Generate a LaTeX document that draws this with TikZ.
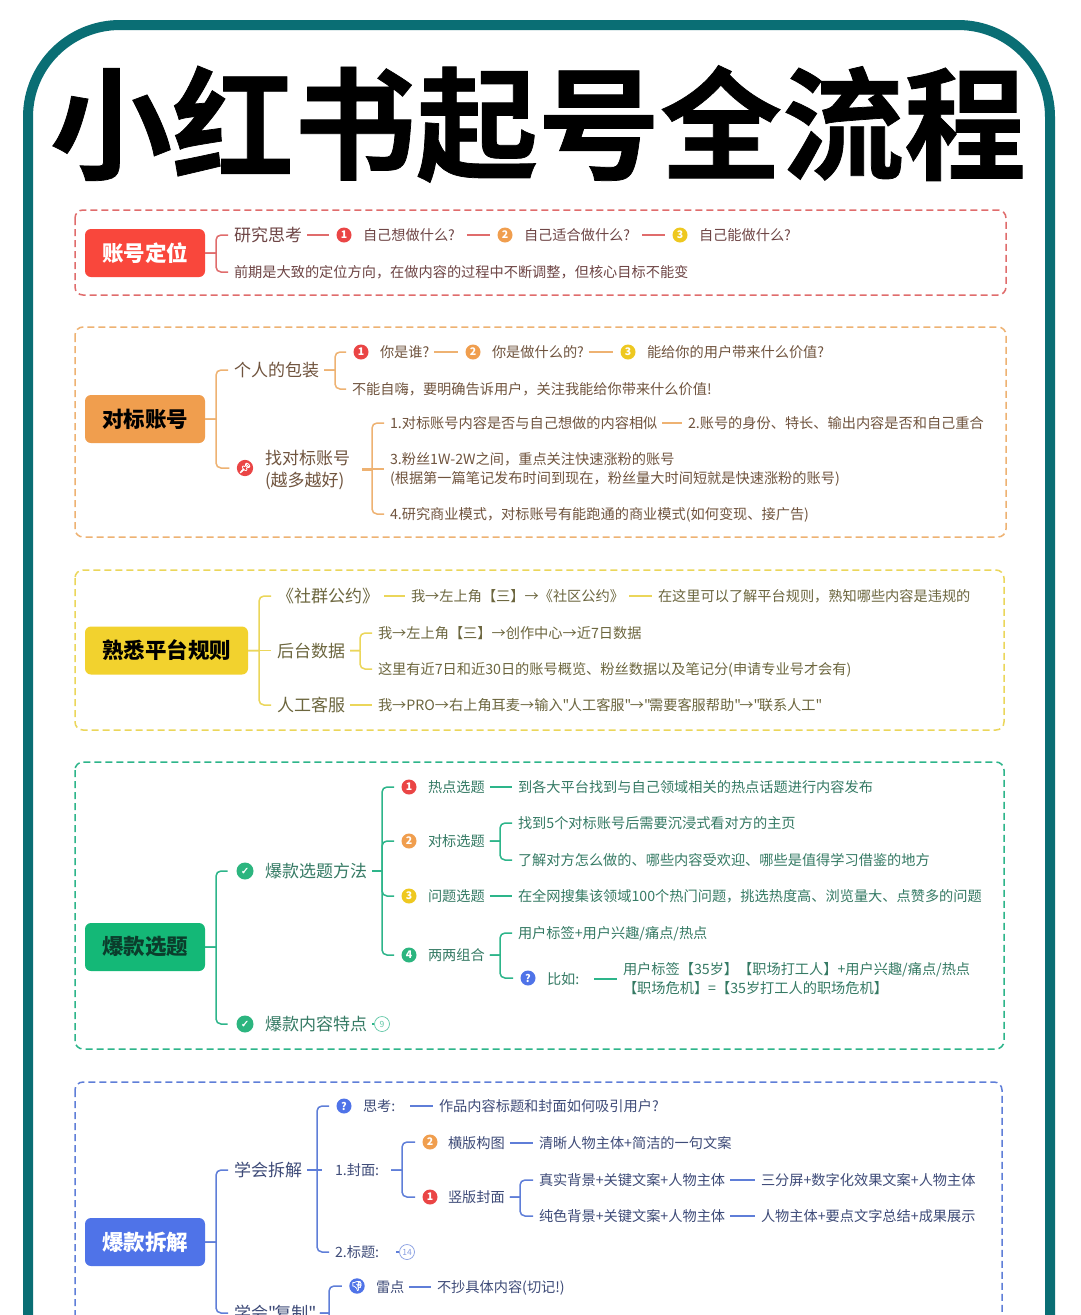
\documentclass[tikz,border=0pt]{standalone}
\usepackage{fontspec}
\setmainfont{Noto Sans CJK SC}
\newfontfamily\plainfont{Noto Sans CJK SC}
\newfontfamily\titlefont[FakeBold=.6]{Noto Sans CJK SC Bold}
\newfontfamily\symfont[FakeBold=1.5]{DejaVu Sans}
\newfontfamily\emojifont[FakeBold=2.5]{Noto Emoji}
\newcommand{\dq}{{\plainfont\symbol{34}}\kern-1.6pt\relax}
\definecolor{frameteal}{HTML}{0A6E74}
\definecolor{badgered}{HTML}{EA4545}
\definecolor{badgeorange}{HTML}{F09E4E}
\definecolor{badgeyellow}{HTML}{EEC820}
\definecolor{badgegreen}{HTML}{2CB57F}
\definecolor{badgeblue}{HTML}{4F73E8}
\definecolor{rootred}{HTML}{F9473C}
\definecolor{rootyellow}{HTML}{F2D22E}
\definecolor{rootgreen}{HTML}{14B877}
\definecolor{rootgreentext}{HTML}{0B3D2C}
\colorlet{linecol}{black}
\colorlet{txtcol}{black}
\tikzset{
  lnk/.style={draw=linecol,line width=1.5pt,shorten >=1pt},
  branch/.style={to path={-- (\tikztostart -| #1,0) (\tikztostart -| #1,0) [rounded corners=5pt] |- (\tikztotarget)}},
  secframe/.style={draw=linecol,line width=1.5pt,dash pattern=on 7pt off 4pt,rounded corners=8pt},
  rootbox/.style={anchor=west,fill=#1,rounded corners=6pt,inner sep=0pt,outer sep=0pt,
    minimum width=120pt,minimum height=48pt,font=\fontsize{21.5}{21.5}\selectfont\bfseries},
  big/.style={anchor=west,inner sep=0pt,outer xsep=#1,xshift=-#1,text=txtcol,font=\fontsize{17}{17}\selectfont,
    text height=15.5pt,text depth=2.5pt},
  big/.default=5pt,
  small/.style={anchor=west,inner sep=0pt,outer xsep=#1,xshift=-#1,text=txtcol,font=\fontsize{14.2}{14.2}\selectfont,
    text height=13pt,text depth=2pt},
  small/.default=5pt,
  twoline/.style={anchor=west,inner sep=0pt,outer xsep=#1,xshift=-#1,text=txtcol,align=left},
  twoline/.default=5pt,
  badge/.style={circle,fill=#1,text=white,inner sep=0pt,minimum size=15pt,outer sep=6.5pt,
    font=\fontsize{10.5}{10.5}\selectfont\bfseries},
  okmark/.style={badge=badgegreen,minimum size=17pt,outer sep=8pt,font=\symfont\fontsize{10}{10}\selectfont},
  count/.style={circle,draw=linecol!75,text=linecol!75,line width=.7pt,inner sep=0pt,minimum size=15pt,
    font=\fontsize{8.5}{8.5}\selectfont},
}
\begin{document}
\begin{tikzpicture}[x=1pt,y=-1pt]
  \useasboundingbox (0,0) rectangle (1080,1315);
  \fill[white] (0,0) rectangle (1080,1315);
  \clip (0,0) rectangle (1080,1315);
  \draw[frameteal,line width=10pt,rounded corners=92pt] (28,25) rectangle (1050,1500);
  \node (title) at (538,124) {\titlefont\fontsize{122}{122}\selectfont 小红书起号全流程};

  % account positioning
  \begin{scope}
    \definecolor{linecol}{HTML}{E06C6C}
    \definecolor{txtcol}{HTML}{6E4545}
    \draw[secframe] (75,210) rectangle (1006,295);
    \node[rootbox=rootred,text=white] (pos) at (85,253) {账号定位};
    \node[big] (think) at (234,235) {研究思考};
    \node[small] (note) at (234,272) {前期是大致的定位方向，在做内容的过程中不断调整，但核心目标不能变};
    \node[badge=badgered] (b1) at (344,235) {1};
    \node[small] (want) at (363,235) {自己想做什么?};
    \node[badge=badgeorange] (b2) at (505,235) {2};
    \node[small] (fit) at (524,235) {自己适合做什么?};
    \node[badge=badgeyellow] (b3) at (680,235) {3};
    \node[small] (can) at (699,235) {自己能做什么?};
    \draw[lnk] (pos.east) to[branch=216] (think.west);
    \draw[lnk] (pos.east) to[branch=216] (note.west);
    \draw[lnk] (think.east) -- (b1.west);
    \draw[lnk,shorten <=7pt] (want.east) -- (b2.west);
    \draw[lnk,shorten <=7pt] (fit.east) -- (b3.west);
  \end{scope}

  % benchmark accounts
  \begin{scope}
    \definecolor{linecol}{HTML}{EEB272}
    \definecolor{txtcol}{HTML}{70543E}
    \draw[secframe] (75,327) rectangle (1006,537);
    \node[rootbox=badgeorange,text=black] (bench) at (85,419) {对标账号};
    \node[big] (pack) at (234,370) {个人的包装};
    \node[badge=badgered] (c1) at (361,352) {1};
    \node[small] (who) at (380,352) {你是谁?};
    \node[badge=badgeorange] (c2) at (473,352) {2};
    \node[small] (what) at (492,352) {你是做什么的?};
    \node[badge=badgeyellow] (c3) at (628,352) {3};
    \node[small] (value) at (647,352) {能给你的用户带来什么价值?};
    \node[small] (tell) at (352,389) {不能自嗨，要明确告诉用户，关注我能给你带来什么价值!};
    \node[okmark,badge=badgered,font=\emojifont\fontsize{10}{10}\selectfont] (pin) at (245,468) {📌};
    \node[twoline=12pt,font=\fontsize{17}{22}\selectfont] (find) at (265,470) {找对标账号\\(越多越好)};
    \node[small] (one) at (390,423) {1.对标账号内容是否与自己想做的内容相似};
    \node[small] (two) at (688,423) {2.账号的身份、特长、输出内容是否和自己重合};
    \node[twoline,font=\fontsize{14.2}{19}\selectfont] (three) at (390,469) {3.粉丝1W-2W之间，重点关注快速涨粉的账号\\(根据第一篇笔记发布时间到现在，粉丝量大时间短就是快速涨粉的账号)};
    \node[small] (four) at (390,514) {4.研究商业模式，对标账号有能跑通的商业模式(如何变现、接广告)};
    \draw[lnk] (bench.east) to[branch=216] (pack.west);
    \draw[lnk] (bench.east) to[branch=216] (pin.west);
    \draw[lnk] (pack.east) to[branch=335] (c1.west);
    \draw[lnk] (pack.east) to[branch=335] (tell.west);
    \draw[lnk] (who.east) -- (c2.west);
    \draw[lnk] (what.east) -- (c3.west);
    \draw[lnk] (find.east) to[branch=372] (one.west);
    \draw[lnk] (find.east |- three.west) -- (three.west);
    \draw[lnk] (find.east) to[branch=372] (four.west);
    \draw[lnk] (one.east) -- (two.west);
  \end{scope}

  % platform rules
  \begin{scope}
    \definecolor{linecol}{HTML}{EBD65A}
    \definecolor{txtcol}{HTML}{6C663E}
    \draw[secframe] (75,570) rectangle (1004,730);
    \node[rootbox=rootyellow,text=black,minimum width=163pt] (rules) at (85,650.5) {熟悉平台规则};
    \node[big] (pact) at (277,596) {《社群公约》};
    \node[big] (data) at (277,650.5) {后台数据};
    \node[big] (svc) at (277,705) {人工客服};
    \node[small] (path) at (411,596) {我→左上角【三】→《社区公约》};
    \node[small] (learn) at (658,596) {在这里可以了解平台规则，熟知哪些内容是违规的};
    \node[small] (dpath) at (378,633) {我→左上角【三】→创作中心→近7日数据};
    \node[small] (dnote) at (378,669) {这里有近7日和近30日的账号概览、粉丝数据以及笔记分(申请专业号才会有)};
    \node[small] (spath) at (378,705) {我→PRO→右上角耳麦→输入\dq 人工客服\dq →\dq 需要客服帮助\dq →\dq 联系人工\dq};
    \draw[lnk] (rules.east) to[branch=259] (pact.west);
    \draw[lnk] (rules.east) -- (data.west);
    \draw[lnk] (rules.east) to[branch=259] (svc.west);
    \draw[lnk] (pact.east) -- (path.west);
    \draw[lnk] (path.east) -- (learn.west);
    \draw[lnk] (data.east) to[branch=360] (dpath.west);
    \draw[lnk] (data.east) to[branch=360] (dnote.west);
    \draw[lnk] (svc.east) -- (spath.west);
  \end{scope}

  % viral topics
  \begin{scope}
    \definecolor{linecol}{HTML}{2DB58A}
    \definecolor{txtcol}{HTML}{357A64}
    \draw[secframe] (75,762) rectangle (1004,1049);
    \node[rootbox=rootgreen,text=rootgreentext] (topic) at (85,947) {爆款选题};
    \node[okmark] (ok1) at (245,871) {✓};
    \node[big] (method) at (265,871) {爆款选题方法};
    \node[okmark] (ok2) at (245,1024) {✓};
    \node[big] (trait) at (265,1024) {爆款内容特点};
    \node[count] (n9) at (382,1024) {9};
    \node[badge=badgered] (d1) at (409,787) {1};
    \node[small] (hot) at (428,787) {热点选题};
    \node[small] (hotn) at (518,787) {到各大平台找到与自己领域相关的热点话题进行内容发布};
    \node[badge=badgeorange] (d2) at (409,841) {2};
    \node[small] (rival) at (428,841) {对标选题};
    \node[small] (rivala) at (518,823) {找到5个对标账号后需要沉浸式看对方的主页};
    \node[small] (rivalb) at (518,860) {了解对方怎么做的、哪些内容受欢迎、哪些是值得学习借鉴的地方};
    \node[badge=badgeyellow] (d3) at (409,896) {3};
    \node[small] (ask) at (428,896) {问题选题};
    \node[small] (askn) at (518,896) {在全网搜集该领域100个热门问题，挑选热度高、浏览量大、点赞多的问题};
    \node[badge=badgegreen] (d4) at (409,955) {4};
    \node[small] (pair) at (428,955) {两两组合};
    \node[small] (paira) at (518,933) {用户标签+用户兴趣/痛点/热点};
    \node[badge=badgeblue] (qq) at (528,978) {?};
    \node[small] (eg) at (547,979) {比如:};
    \node[twoline,font=\fontsize{14.2}{19}\selectfont] (egn) at (623,979) {用户标签【35岁】【职场打工人】+用户兴趣/痛点/热点\\【职场危机】=【35岁打工人的职场危机】};
    \draw[lnk] (topic.east) to[branch=216] (ok1.west);
    \draw[lnk] (topic.east) to[branch=216] (ok2.west);
    \draw[lnk] (method.east) to[branch=382] (d1.west);
    \draw[lnk] (method.east) to[branch=382] (d2.west);
    \draw[lnk] (method.east) to[branch=382] (d3.west);
    \draw[lnk] (method.east) to[branch=382] (d4.west);
    \draw[lnk,shorten >=0pt] (trait.east) -- (n9.west);
    \draw[lnk] (hot.east) -- (hotn.west);
    \draw[lnk] (rival.east) to[branch=500] (rivala.west);
    \draw[lnk] (rival.east) to[branch=500] (rivalb.west);
    \draw[lnk] (ask.east) -- (askn.west);
    \draw[lnk] (pair.east) to[branch=500] (paira.west);
    \draw[lnk] (pair.east) to[branch=500] (qq.west);
    \draw[lnk,shorten <=10pt] (eg.east) -- (egn.west);
  \end{scope}

  % viral breakdown
  \begin{scope}
    \definecolor{linecol}{HTML}{5F7ED8}
    \definecolor{txtcol}{HTML}{3E4B78}
    \draw[secframe] (75,1082) rectangle (1002,1500);
    \node[rootbox=badgeblue,text=white] (take) at (85,1242) {爆款拆解};
    \node[big] (split) at (234,1170) {学会拆解};
    \node[big] (copy) at (234,1313) {学会\dq 复制\dq};
    \node[badge=badgeblue] (q) at (344,1106) {?};
    \node[small] (ponder) at (363,1106) {思考:};
    \node[small] (pondern) at (439,1106) {作品内容标题和封面如何吸引用户?};
    \node[small=12pt] (cover) at (335,1170) {1.封面:};
    \node[small] (headline) at (335,1252) {2.标题:};
    \node[count] (n14) at (407,1252) {14};
    \node[badge=badgeorange] (e2) at (430,1142) {2};
    \node[small] (land) at (448,1143) {横版构图};
    \node[small] (landn) at (539,1143) {清晰人物主体+简洁的一句文案};
    \node[badge=badgered] (e1) at (430,1197) {1};
    \node[small] (port) at (448,1197) {竖版封面};
    \node[small] (reala) at (539,1180) {真实背景+关键文案+人物主体};
    \node[small] (realb) at (761,1180) {三分屏+数字化效果文案+人物主体};
    \node[small] (plaina) at (539,1216) {纯色背景+关键文案+人物主体};
    \node[small] (plainb) at (761,1216) {人物主体+要点文字总结+成果展示};
    \node[badge=badgeblue,font=\emojifont\fontsize{9.5}{9.5}\selectfont] (thumb) at (357,1286) {👎};
    \node[small] (mine) at (376,1287) {雷点};
    \node[small] (minen) at (437,1287) {不抄具体内容(切记!)};
    \coordinate (more) at (342,1345);
    \draw[lnk] (take.east) to[branch=216] (split.west);
    \draw[lnk] (take.east) to[branch=216] (copy.west);
    \draw[lnk] (split.east) to[branch=317] (q.west);
    \draw[lnk] (split.east) -- (cover.west);
    \draw[lnk] (split.east) to[branch=317] (headline.west);
    \draw[lnk,shorten <=10pt] (ponder.east) -- (pondern.west);
    \draw[lnk,shorten <=12pt,shorten >=0pt] (headline.east) -- (n14.west);
    \draw[lnk] (cover.east) to[branch=402] (e2.west);
    \draw[lnk] (cover.east) to[branch=402] (e1.west);
    \draw[lnk] (land.east) -- (landn.west);
    \draw[lnk] (port.east) to[branch=520] (reala.west);
    \draw[lnk] (port.east) to[branch=520] (plaina.west);
    \draw[lnk] (reala.east) -- (realb.west);
    \draw[lnk] (plaina.east) -- (plainb.west);
    \draw[lnk] (copy.east) to[branch=329] (thumb.west);
    \draw[lnk] (copy.east) to[branch=329] (more);
    \draw[lnk] (mine.east) -- (minen.west);
  \end{scope}
\end{tikzpicture}
\end{document}
